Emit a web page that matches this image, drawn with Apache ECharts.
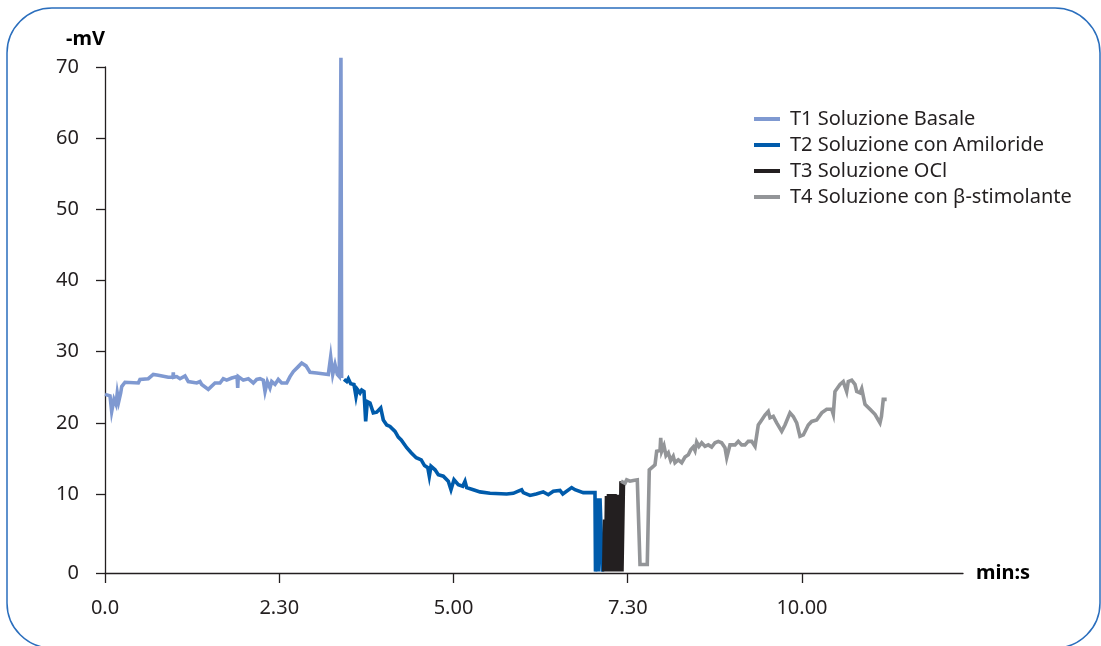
<!DOCTYPE html>
<html>
<head>
<meta charset="utf-8">
<script src="https://cdn.jsdelivr.net/npm/echarts@6/dist/echarts.min.js"></script>
<style>
html,body{margin:0;padding:0;background:#fff;}
#c{width:1101px;height:646px;}
</style>
</head>
<body>
<div id="c"></div>
<script>
// ---- data (time in minutes, potential in -mV) ----
const seriesNames = ['T1 Soluzione Basale', 'T2 Soluzione con Amiloride', 'T3 Soluzione OCl', 'T4 Soluzione con β-stimolante'];

const t1Time = [0.0, 0.072, 0.096, 0.129, 0.158, 0.176, 0.197, 0.225, 0.24, 0.287, 0.478, 0.502, 0.621, 0.693, 0.765, 0.908, 0.975, 0.98, 0.985, 1.029, 1.076, 1.148, 1.195, 1.316, 1.363, 1.387, 1.482, 1.578, 1.650, 1.697, 1.746, 1.818, 1.895, 1.904, 1.912, 1.984, 2.056, 2.128, 2.176, 2.224, 2.271, 2.296, 2.329, 2.367, 2.392, 2.439, 2.486, 2.535, 2.607, 2.654, 2.702, 2.773, 2.822, 2.884, 2.941, 3.037, 3.204, 3.238, 3.267, 3.300, 3.333, 3.361, 3.375, 3.385, 3.395];
const t1Value = [24.0, 23.8, 21.6, 23.3, 22.6, 24.2, 23.0, 24.2, 25.1, 25.7, 25.6, 26.1, 26.2, 26.8, 26.7, 26.4, 26.4, 27.1, 26.4, 26.5, 26.2, 26.6, 25.8, 25.6, 25.8, 25.4, 24.7, 25.6, 25.6, 26.2, 26.0, 26.3, 26.5, 24.9, 26.5, 26.0, 26.2, 25.6, 26.1, 26.2, 26.0, 24.4, 25.8, 24.9, 25.8, 25.4, 26.1, 25.6, 25.6, 26.5, 27.2, 27.9, 28.4, 28.0, 27.1, 27.0, 26.8, 29.3, 26.8, 28.2, 26.8, 26.5, 26.4, 71.3, 26.3];

const t2Time = [3.429, 3.468, 3.491, 3.525, 3.572, 3.601, 3.620, 3.659, 3.683, 3.716, 3.740, 3.763, 3.802, 3.849, 3.898, 3.956, 3.993, 4.042, 4.089, 4.161, 4.208, 4.250, 4.329, 4.393, 4.465, 4.537, 4.584, 4.631, 4.653, 4.677, 4.735, 4.782, 4.854, 4.925, 4.964, 5.007, 5.069, 5.132, 5.165, 5.189, 5.284, 5.380, 5.524, 5.763, 5.858, 5.930, 5.978, 6.001, 6.098, 6.186, 6.288, 6.360, 6.432, 6.528, 6.568, 6.695, 6.743, 6.862, 7.030, 7.037, 7.066, 7.080, 7.102, 7.123, 7.138];
const t2Value = [26.1, 25.8, 26.2, 25.5, 25.4, 23.7, 24.7, 24.2, 24.6, 24.4, 20.2, 23.0, 22.8, 21.4, 21.5, 22.1, 20.4, 19.7, 19.5, 18.8, 18.0, 17.6, 16.5, 15.8, 15.1, 14.8, 14.0, 13.7, 12.5, 13.9, 13.4, 12.7, 12.5, 11.8, 10.6, 12.0, 11.3, 11.1, 11.8, 10.9, 10.6, 10.3, 10.1, 10.0, 10.1, 10.4, 10.6, 10.2, 9.8, 10.0, 10.3, 9.9, 10.4, 10.5, 10.0, 10.9, 10.6, 10.2, 10.2, -0.9, 9.4, -0.9, 9.4, 9.4, -0.9];

const t3Time = [7.155, 7.168, 7.181, 7.195, 7.209, 7.224, 7.245, 7.260, 7.274, 7.288, 7.303, 7.317, 7.331, 7.346, 7.360, 7.374, 7.389, 7.403, 7.417, 7.439];
const t3Value = [-0.9, 6.4, -0.9, 9.7, -0.9, 10.0, -0.9, 10.0, -0.9, 10.0, -0.9, 10.0, -0.9, 9.9, -0.9, 9.9, -0.9, 11.8, -0.9, 11.8];

const t4Time = [7.403, 7.461, 7.485, 7.532, 7.580, 7.637, 7.676, 7.780, 7.809, 7.891, 7.915, 7.963, 7.973, 7.987, 8.020, 8.049, 8.082, 8.116, 8.153, 8.178, 8.225, 8.274, 8.321, 8.369, 8.403, 8.440, 8.465, 8.489, 8.522, 8.561, 8.608, 8.656, 8.704, 8.752, 8.799, 8.847, 8.895, 8.920, 8.967, 9.039, 9.086, 9.135, 9.182, 9.229, 9.278, 9.326, 9.373, 9.422, 9.469, 9.516, 9.541, 9.588, 9.637, 9.709, 9.756, 9.828, 9.875, 9.924, 9.971, 10.019, 10.090, 10.139, 10.211, 10.283, 10.354, 10.426, 10.449, 10.473, 10.545, 10.592, 10.641, 10.664, 10.713, 10.760, 10.785, 10.832, 10.857, 10.904, 10.976, 11.047, 11.119, 11.140, 11.166, 11.215];
const t4Value = [11.8, 11.5, 12.0, 11.8, 11.9, 12.0, 0.1, 0.1, 13.4, 14.1, 16.0, 16.1, 17.9, 16.0, 16.8, 15.4, 15.8, 14.7, 15.3, 14.4, 14.8, 14.4, 15.2, 15.5, 16.2, 16.6, 16.1, 17.3, 16.7, 17.2, 16.7, 16.9, 16.6, 17.2, 17.4, 17.2, 16.5, 15.1, 16.9, 16.9, 17.4, 16.9, 16.9, 17.4, 17.4, 16.7, 19.7, 20.4, 21.1, 21.6, 20.7, 20.9, 20.0, 18.8, 19.7, 21.4, 20.9, 20.0, 18.1, 18.3, 19.7, 20.2, 20.4, 21.4, 21.9, 21.9, 21.2, 24.4, 25.4, 25.8, 24.4, 25.8, 26.0, 25.4, 24.4, 24.2, 24.8, 22.6, 21.9, 21.2, 20.0, 20.9, 23.3, 23.3];

const xTickValues = [0, 2.5, 5, 7.5, 10];
const xTickLabels = ['0.0', '2.30', '5.00', '7.30', '10.00'];
const yTickValues = [-1.1, 10, 20, 30, 40, 50, 60, 70];
const yTickLabels = ['0', '10', '20', '30', '40', '50', '60', '70'];

// ---- chart ----
const FONT = 'Noto Sans';
const colors = ['#7f99d1', '#005bab', '#231f20', '#939598'];
const zip = (a, b) => a.map((v, i) => [v, b[i]]);
const seriesData = [zip(t1Time, t1Value), zip(t2Time, t2Value), zip(t3Time, t3Value), zip(t4Time, t4Value)];

const axisColor = '#231f20';
const labelStyle = { fontFamily: FONT, fontSize: 20, color: '#231f20' };

const chart = echarts.init(document.getElementById('c'), null, { renderer: 'canvas' });
chart.setOption({
  animation: false,
  backgroundColor: '#ffffff',
  color: colors,
  graphic: [{
    type: 'rect',
    silent: true,
    z: -10,
    shape: { x: 7, y: 8, width: 1093, height: 640, r: 45 },
    style: { fill: 'none', stroke: '#2a6ebd', lineWidth: 1.5 }
  }],
  grid: { left: 105, top: 67, width: 858, height: 506 },
  legend: {
    orient: 'vertical',
    left: 749,
    top: 104,
    itemWidth: 26,
    itemHeight: 4,
    itemGap: 6,
    icon: 'rect',
    data: seriesNames,
    textStyle: { fontFamily: FONT, fontSize: 20, color: '#231f20', padding: [0, 0, 0, 5] }
  },
  xAxis: {
    type: 'value',
    min: 0,
    max: 12.31,
    name: 'min:s',
    nameLocation: 'end',
    nameGap: 13,
    nameTextStyle: { fontFamily: FONT, fontSize: 20, fontWeight: 'bold', color: '#000', padding: [0, 0, 6, 0] },
    axisLine: { show: true, onZero: false, lineStyle: { color: axisColor, width: 1.3 } },
    axisTick: { show: true, customValues: xTickValues, length: 10, lineStyle: { color: axisColor, width: 1.3 } },
    axisLabel: { customValues: xTickValues, margin: 25, formatter: v => xTickLabels[xTickValues.indexOf(v)], ...labelStyle },
    splitLine: { show: false }
  },
  yAxis: {
    type: 'value',
    min: -1.1,
    max: 70,
    name: '-mV',
    nameLocation: 'end',
    nameGap: 18,
    nameTextStyle: { fontFamily: FONT, fontSize: 20, fontWeight: 'bold', color: '#000', align: 'right' },
    axisLine: { show: true, onZero: false, lineStyle: { color: axisColor, width: 1.3 } },
    axisTick: { show: true, customValues: yTickValues, length: 9, lineStyle: { color: axisColor, width: 1.3 } },
    axisLabel: { customValues: yTickValues, margin: 26, formatter: v => yTickLabels[yTickValues.indexOf(v)], ...labelStyle },
    splitLine: { show: false }
  },
  series: seriesNames.map((name, i) => ({
    name: name,
    type: 'line',
    data: seriesData[i],
    showSymbol: false,
    symbol: 'none',
    clip: false,
    lineStyle: { width: 3.6, color: colors[i], join: 'miter' },
    itemStyle: { color: colors[i] },
    emphasis: { disabled: true }
  }))
});
</script>
</body>
</html>
